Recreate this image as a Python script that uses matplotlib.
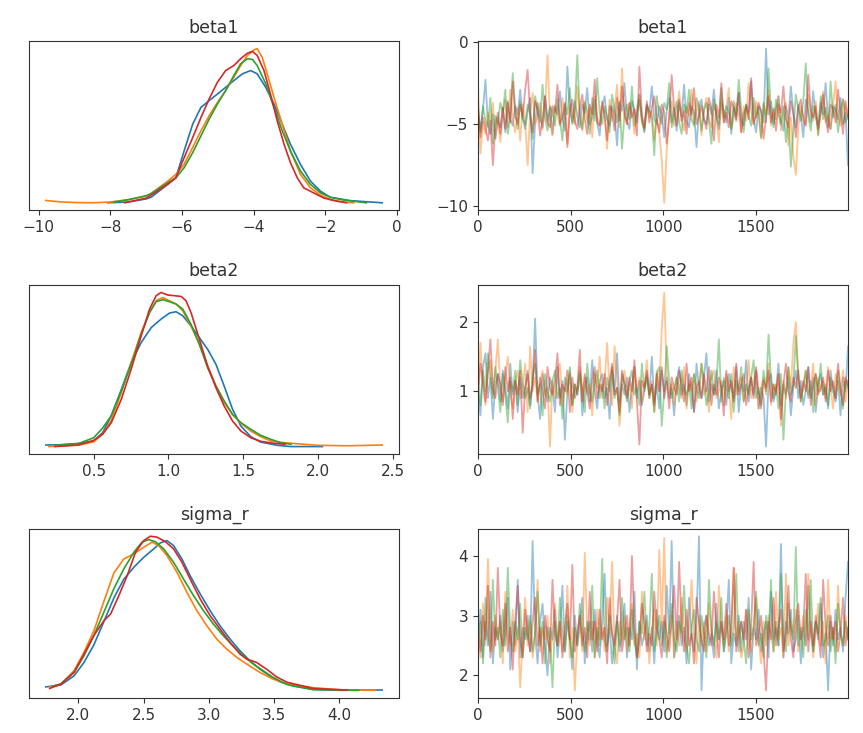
import numpy as np
import matplotlib
matplotlib.use("Agg")
import matplotlib.pyplot as plt

var_names = ['beta1', 'beta2', 'sigma_r']
chain_colors = ['C0', 'C1', 'C2', 'C3']
n_draws = 2000
trace_xticks = [0, 500, 1000, 1500]
trace_yticks = [[-10, -5, 0], [1, 2], [2, 3, 4]]

# density curves (relative height, one list per chain)
beta1_kde_x = [
    [-8.07, -7.5, -7.0, -6.86, -6.4, -6.17, -5.94, -5.7, -5.47, -5.24, -5.01, -4.78, -4.55, -4.31, -4.08, -3.9, -3.66, -3.43, -3.2, -2.97, -2.69, -2.41, -2.13, -1.86, -1.3, -0.41],
    [-9.8, -9.4, -9.0, -8.5, -8.0, -7.5, -7.0, -6.86, -6.4, -6.17, -5.94, -5.7, -5.47, -5.24, -5.01, -4.78, -4.55, -4.36, -4.17, -3.98, -3.9, -3.76, -3.62, -3.43, -3.2, -2.97, -2.69, -2.41, -2.13, -1.86, -1.49, -1.2],
    [-7.9, -7.5, -7.0, -6.86, -6.4, -6.17, -5.94, -5.7, -5.47, -5.24, -5.01, -4.78, -4.55, -4.36, -4.17, -4.03, -3.9, -3.66, -3.43, -3.2, -2.97, -2.69, -2.41, -2.13, -1.86, -1.49, -0.85],
    [-7.6, -7.0, -6.86, -6.4, -6.17, -5.94, -5.7, -5.47, -5.24, -5.01, -4.78, -4.55, -4.36, -4.17, -4.03, -3.9, -3.71, -3.53, -3.34, -3.15, -2.97, -2.78, -2.6, -2.32, -2.04, -1.67, -1.4],
]
beta1_kde_y = [
    [0.0, 0.005, 0.025, 0.036, 0.119, 0.162, 0.336, 0.51, 0.619, 0.663, 0.706, 0.749, 0.793, 0.837, 0.858, 0.837, 0.749, 0.641, 0.51, 0.38, 0.249, 0.14, 0.075, 0.036, 0.014, 0.0],
    [0.015, 0.006, 0.002, 0.0, 0.005, 0.02, 0.045, 0.06, 0.14, 0.184, 0.249, 0.358, 0.467, 0.565, 0.651, 0.728, 0.815, 0.891, 0.956, 0.993, 1.0, 0.945, 0.837, 0.684, 0.51, 0.336, 0.184, 0.097, 0.049, 0.021, 0.005, 0.0],
    [0.005, 0.02, 0.045, 0.06, 0.13, 0.162, 0.227, 0.325, 0.434, 0.543, 0.641, 0.728, 0.826, 0.902, 0.935, 0.93, 0.891, 0.772, 0.619, 0.467, 0.336, 0.206, 0.119, 0.064, 0.036, 0.018, 0.0],
    [0.0, 0.03, 0.05, 0.12, 0.162, 0.292, 0.423, 0.553, 0.674, 0.782, 0.858, 0.891, 0.935, 0.971, 0.982, 0.956, 0.858, 0.706, 0.532, 0.38, 0.26, 0.162, 0.097, 0.064, 0.031, 0.01, 0.0],
]
beta2_kde_x = [
    [0.18, 0.3, 0.4, 0.5, 0.56, 0.618, 0.685, 0.751, 0.818, 0.885, 0.951, 1.007, 1.051, 1.096, 1.151, 1.207, 1.262, 1.318, 1.373, 1.429, 1.485, 1.551, 1.618, 1.729, 1.818, 2.03],
    [0.2, 0.4, 0.5, 0.56, 0.618, 0.685, 0.751, 0.818, 0.874, 0.918, 0.962, 1.007, 1.051, 1.096, 1.151, 1.207, 1.262, 1.318, 1.373, 1.429, 1.485, 1.551, 1.618, 1.685, 1.773, 2.0, 2.2, 2.43],
    [0.25, 0.4, 0.5, 0.56, 0.618, 0.685, 0.751, 0.818, 0.874, 0.918, 0.962, 1.007, 1.051, 1.096, 1.151, 1.207, 1.262, 1.318, 1.373, 1.429, 1.485, 1.551, 1.618, 1.685, 1.751, 1.82],
    [0.24, 0.4, 0.5, 0.56, 0.618, 0.685, 0.751, 0.818, 0.874, 0.918, 0.951, 0.996, 1.04, 1.085, 1.118, 1.151, 1.207, 1.262, 1.318, 1.373, 1.429, 1.485, 1.551, 1.618, 1.707, 1.78],
]
beta2_kde_y = [
    [0.01, 0.012, 0.02, 0.036, 0.09, 0.2, 0.37, 0.545, 0.675, 0.772, 0.827, 0.866, 0.875, 0.849, 0.783, 0.707, 0.632, 0.534, 0.393, 0.242, 0.133, 0.064, 0.029, 0.008, 0.0, 0.0],
    [0.0, 0.01, 0.03, 0.08, 0.17, 0.35, 0.545, 0.74, 0.87, 0.946, 0.967, 0.946, 0.925, 0.881, 0.783, 0.664, 0.523, 0.393, 0.285, 0.209, 0.151, 0.101, 0.064, 0.036, 0.025, 0.008, 0.005, 0.01],
    [0.01, 0.02, 0.057, 0.12, 0.2, 0.361, 0.534, 0.73, 0.87, 0.94, 0.953, 0.94, 0.925, 0.892, 0.794, 0.664, 0.512, 0.393, 0.296, 0.209, 0.155, 0.112, 0.073, 0.047, 0.025, 0.015],
    [0.0, 0.01, 0.04, 0.08, 0.155, 0.307, 0.502, 0.718, 0.892, 0.979, 1.0, 0.983, 0.979, 0.974, 0.946, 0.87, 0.697, 0.523, 0.382, 0.263, 0.166, 0.101, 0.057, 0.034, 0.021, 0.015],
]
sigma_r_kde_x = [
    [1.75, 1.865, 1.967, 2.043, 2.119, 2.196, 2.272, 2.348, 2.425, 2.501, 2.578, 2.628, 2.679, 2.73, 2.794, 2.857, 2.934, 3.01, 3.086, 3.163, 3.239, 3.315, 3.392, 3.468, 3.544, 3.65, 3.8, 4.0, 4.33],
    [1.78, 1.865, 1.967, 2.043, 2.119, 2.196, 2.272, 2.348, 2.425, 2.501, 2.565, 2.616, 2.679, 2.756, 2.832, 2.908, 2.985, 3.061, 3.137, 3.214, 3.29, 3.392, 3.493, 3.6, 3.8, 4.0, 4.28],
    [1.8, 1.865, 1.967, 2.043, 2.119, 2.196, 2.272, 2.348, 2.425, 2.488, 2.539, 2.59, 2.654, 2.73, 2.806, 2.883, 2.959, 3.035, 3.112, 3.188, 3.264, 3.341, 3.417, 3.493, 3.6, 3.8, 4.15],
    [1.78, 1.865, 1.967, 2.043, 2.119, 2.196, 2.247, 2.31, 2.374, 2.438, 2.501, 2.552, 2.603, 2.667, 2.73, 2.794, 2.857, 2.934, 3.01, 3.086, 3.163, 3.239, 3.29, 3.366, 3.443, 3.519, 3.6, 3.8, 4.06],
]
sigma_r_kde_y = [
    [0.03, 0.042, 0.101, 0.187, 0.3, 0.45, 0.6, 0.72, 0.797, 0.861, 0.915, 0.953, 0.968, 0.936, 0.85, 0.743, 0.626, 0.519, 0.422, 0.337, 0.262, 0.198, 0.144, 0.101, 0.063, 0.035, 0.015, 0.008, 0.01],
    [0.03, 0.048, 0.134, 0.252, 0.39, 0.58, 0.76, 0.85, 0.883, 0.925, 0.958, 0.936, 0.872, 0.765, 0.637, 0.519, 0.422, 0.337, 0.273, 0.22, 0.177, 0.123, 0.08, 0.05, 0.025, 0.012, 0.008],
    [0.035, 0.048, 0.123, 0.23, 0.36, 0.51, 0.66, 0.786, 0.893, 0.958, 0.974, 0.961, 0.915, 0.829, 0.722, 0.615, 0.519, 0.433, 0.358, 0.29, 0.23, 0.177, 0.134, 0.091, 0.045, 0.012, 0.008],
    [0.02, 0.048, 0.123, 0.241, 0.36, 0.455, 0.497, 0.615, 0.743, 0.893, 0.968, 0.996, 0.99, 0.961, 0.915, 0.829, 0.722, 0.594, 0.487, 0.401, 0.316, 0.241, 0.209, 0.187, 0.144, 0.095, 0.06, 0.02, 0.01],
]

# trace values, estimated from the right column (150 per chain over 2000 draws)
beta1_trace = [
    [-4.6, -5.3, -4.1, -2.3, -5.0, -5.6, -4.4, -5.9, -4.8, -5.2,
     -4.0, -5.5, -3.6, -4.7, -5.1, -3.9, -4.4, -2.9, -4.6, -5.3,
     -4.2, -3.4, -8.0, -4.9, -3.7, -4.5, -5.2, -3.3, -4.8, -4.0,
     -5.6, -3.9, -4.4, -3.0, -4.7, -5.4, -1.5, -4.1, -4.9, -3.6,
     -4.5, -5.2, -3.8, -4.3, -2.8, -5.0, -4.6, -3.5, -4.9, -5.7,
     -4.0, -3.3, -4.7, -5.1, -3.9, -4.4, -6.3, -3.7, -4.2, -2.5,
     -4.8, -5.3, -3.6, -4.1, -4.9, -3.2, -4.6, -5.5, -3.8, -4.3,
     -2.7, -4.7, -5.0, -3.9, -4.4, -5.8, -4.2, -3.4, -4.9, -4.0,
     -5.4, -3.7, -4.5, -2.6, -4.8, -5.2, -3.9, -4.3, -6.4, -4.1,
     -3.5, -4.7, -5.0, -3.8, -4.4, -2.9, -4.6, -5.3, -3.7, -4.2,
     -4.9, -3.4, -5.6, -4.0, -4.5, -3.1, -4.8, -5.1, -3.8, -4.3,
     -2.4, -4.7, -5.5, -3.9, -4.2, -4.9, -0.4, -4.4, -3.6, -5.0,
     -4.1, -3.3, -4.8, -5.4, -3.9, -4.6, -2.7, -4.3, -5.2, -3.8,
     -4.5, -5.8, -3.5, -4.2, -4.9, -3.0, -4.6, -5.1, -3.7, -4.4,
     -2.5, -4.8, -5.3, -3.9, -4.1, -4.7, -3.4, -5.0, -4.3, -7.5],
    [-2.8, -6.8, -4.9, -5.6, -4.3, -5.1, -3.7, -5.8, -4.6, -6.1,
     -4.4, -3.5, -5.2, -2.9, -4.7, -5.5, -4.0, -6.0, -3.8, -4.9,
     -7.5, -4.2, -3.1, -5.0, -4.6, -3.7, -5.3, -4.1, -0.8, -4.8,
     -5.7, -3.9, -4.4, -5.1, -3.4, -4.7, -6.2, -3.8, -4.3, -5.0,
     -2.7, -4.5, -5.4, -3.6, -4.9, -4.0, -5.8, -3.3, -4.6, -5.1,
     -3.9, -4.4, -6.5, -3.5, -4.8, -4.1, -2.6, -5.2, -1.6, -4.5,
     -5.0, -3.7, -4.3, -5.6, -4.0, -3.2, -4.9, -5.3, -3.8, -4.6,
     -4.2, -6.0, -4.7, -5.5, -7.2, -9.8, -6.6, -4.4, -3.6, -5.1,
     -4.3, -3.0, -4.8, -5.4, -3.9, -4.5, -2.9, -5.0, -4.2, -3.6,
     -5.7, -4.1, -3.4, -4.7, -5.2, -3.8, -4.4, -6.1, -3.5, -4.9,
     -4.0, -2.8, -5.3, -4.6, -3.7, -4.3, -5.5, -3.9, -4.8, -2.5,
     -4.2, -5.0, -3.6, -4.5, -5.9, -3.8, -4.4, -2.9, -5.1, -4.0,
     -4.7, -3.3, -5.4, -4.1, -3.7, -6.3, -4.6, -7.0, -8.1, -5.2,
     -3.9, -4.5, -5.0, -3.2, -4.3, -4.8, -3.6, -5.6, -4.2, -3.0,
     -4.9, -4.4, -5.3, -3.8, -2.4, -4.6, -5.1, -3.5, -4.0, -4.7],
    [-4.1, -5.5, -3.9, -4.8, -5.2, -3.4, -6.2, -4.5, -5.0, -3.7,
     -4.3, -2.9, -5.6, -4.6, -1.9, -4.0, -5.3, -3.6, -4.7, -5.0,
     -3.8, -4.4, -5.9, -3.3, -4.2, -4.9, -2.6, -4.6, -5.4, -3.9,
     -4.3, -5.1, -3.5, -4.7, -6.0, -3.8, -4.4, -2.8, -5.0, -4.1,
     -0.8, -4.5, -5.3, -3.7, -4.2, -5.6, -3.4, -4.8, -2.2, -4.3,
     -5.0, -3.9, -4.6, -5.5, -3.2, -4.1, -4.9, -3.6, -6.5, -4.4,
     -3.8, -4.7, -2.7, -5.1, -4.3, -3.5, -4.8, -5.4, -3.9, -4.2,
     -4.6, -6.9, -3.3, -4.5, -5.0, -3.7, -4.1, -2.5, -5.2, -4.4,
     -3.6, -4.9, -5.6, -3.8, -4.3, -2.9, -4.7, -5.1, -3.4, -4.0,
     -5.4, -4.2, -3.7, -4.8, -6.2, -3.5, -4.4, -5.0, -2.8, -4.6,
     -3.9, -4.3, -5.3, -3.6, -4.7, -2.3, -4.1, -5.5, -3.8, -4.5,
     -5.1, -3.4, -4.6, -4.0, -5.8, -3.7, -4.9, -1.6, -4.2, -5.2,
     -3.5, -4.4, -5.0, -3.9, -6.1, -4.6, -7.6, -5.3, -3.2, -4.1,
     -4.8, -3.6, -1.3, -4.5, -5.4, -3.9, -4.3, -5.7, -3.3, -4.7,
     -4.0, -5.2, -2.4, -4.6, -3.8, -5.5, -4.2, -3.5, -4.9, -4.4],
    [-3.9, -5.8, -4.6, -5.2, -6.0, -4.8, -7.5, -5.1, -4.3, -5.6,
     -4.0, -5.3, -3.7, -4.9, -2.4, -4.5, -5.0, -3.8, -4.6, -2.9,
     -1.7, -4.4, -5.5, -3.6, -4.1, -5.7, -4.7, -3.3, -4.9, -5.2,
     -3.9, -4.3, -2.6, -5.0, -4.6, -3.7, -6.4, -4.2, -3.5, -4.8,
     -5.3, -4.0, -3.2, -4.7, -5.6, -3.8, -4.4, -2.3, -4.9, -5.1,
     -3.6, -4.5, -6.0, -3.9, -4.2, -5.4, -3.4, -4.8, -2.7, -4.3,
     -5.0, -3.7, -4.6, -4.1, -5.7, -1.5, -4.4, -5.2, -3.6, -4.9,
     -4.0, -3.3, -4.7, -5.5, -3.8, -4.3, -6.2, -4.6, -2.0, -4.1,
     -5.1, -3.5, -4.8, -4.2, -5.6, -3.7, -4.4, -2.8, -5.0, -4.5,
     -3.9, -4.7, -5.3, -3.4, -4.1, -6.0, -3.8, -4.6, -2.5, -4.9,
     -4.3, -5.2, -3.6, -4.0, -4.8, -3.1, -5.5, -4.4, -3.9, -4.7,
     -2.2, -5.0, -4.5, -3.7, -4.2, -5.9, -4.6, -3.3, -4.9, -4.1,
     -5.4, -3.8, -4.3, -2.7, -4.7, -5.2, -3.6, -4.4, -5.8, -4.0,
     -3.5, -4.8, -5.1, -2.0, -4.2, -4.6, -3.9, -5.3, -4.4, -3.2,
     -4.7, -5.5, -3.8, -4.1, -4.9, -2.9, -4.3, -5.6, -3.6, -4.5],
]
beta2_trace = [
    [1.0, 0.65, 1.35, 1.55, 0.9, 1.2, 0.6, 1.1, 1.25, 0.85,
     1.3, 1.05, 0.75, 1.4, 0.95, 1.15, 0.7, 1.2, 0.9, 1.05,
     1.3, 0.8, 1.1, 2.05, 0.95, 0.6, 1.25, 1.0, 0.85, 1.2,
     1.05, 0.7, 1.35, 0.9, 1.15, 0.3, 1.0, 1.25, 0.8, 1.1,
     0.95, 1.3, 0.65, 1.05, 1.2, 0.85, 1.45, 1.0, 0.75, 1.15,
     1.25, 0.9, 1.05, 0.6, 1.3, 1.0, 1.55, 0.85, 1.1, 0.95,
     1.2, 0.7, 1.05, 1.35, 0.9, 1.15, 0.8, 1.0, 1.25, 0.95,
     1.5, 0.85, 1.1, 0.75, 1.3, 1.0, 1.2, 0.9, 1.05, 0.65,
     1.15, 1.35, 0.95, 1.1, 0.8, 1.25, 1.0, 0.7, 1.4, 1.05,
     0.9, 1.2, 1.55, 0.85, 1.1, 0.95, 1.3, 0.75, 1.0, 1.15,
     0.8, 1.25, 1.05, 0.9, 1.35, 0.7, 1.1, 1.0, 1.45, 0.85,
     1.2, 0.95, 1.3, 0.75, 1.05, 0.9, 0.2, 1.15, 1.25, 0.85,
     1.0, 1.4, 0.8, 1.1, 0.95, 1.2, 0.65, 1.05, 1.3, 0.9,
     1.15, 0.8, 1.0, 1.35, 0.9, 1.2, 0.7, 1.1, 1.25, 0.95,
     1.05, 0.75, 1.3, 1.0, 0.85, 1.15, 0.65, 1.2, 1.0, 1.65],
    [0.9, 1.7, 1.1, 0.8, 1.25, 1.45, 0.95, 1.3, 1.75, 1.05,
     0.85, 1.2, 1.5, 1.0, 0.75, 1.15, 1.3, 0.9, 1.05, 1.4,
     0.7, 1.65, 1.0, 1.2, 0.85, 1.1, 1.3, 0.95, 1.05, 0.2,
     1.15, 0.9, 1.25, 1.4, 0.8, 1.05, 0.95, 1.3, 0.7, 1.1,
     1.0, 1.35, 0.85, 1.2, 0.95, 1.1, 0.65, 1.25, 1.05, 1.5,
     0.9, 1.15, 1.7, 1.0, 0.8, 1.65, 1.2, 0.5, 1.05, 1.3,
     0.95, 1.1, 0.75, 1.35, 1.0, 1.2, 0.85, 1.05, 1.45, 0.9,
     1.15, 0.7, 1.3, 1.0, 1.9, 2.43, 1.25, 0.95, 1.1, 0.8,
     1.2, 1.05, 0.9, 1.35, 0.75, 1.15, 1.0, 1.25, 0.85, 1.1,
     1.4, 0.95, 1.05, 0.7, 1.2, 1.3, 0.9, 1.0, 1.15, 0.8,
     1.25, 1.05, 0.6, 1.35, 0.95, 1.1, 1.2, 0.85, 1.0, 1.45,
     0.9, 1.15, 1.3, 0.75, 1.05, 1.2, 0.95, 1.4, 0.8, 1.1,
     1.0, 1.25, 0.5, 1.15, 0.9, 1.35, 1.05, 1.7, 2.0, 1.2,
     0.85, 1.1, 1.3, 0.95, 1.05, 1.4, 0.8, 1.2, 1.0, 1.15,
     0.9, 1.35, 1.05, 0.75, 1.25, 1.1, 0.95, 1.3, 0.85, 1.15],
    [1.1, 0.8, 1.3, 1.0, 1.55, 1.2, 0.9, 1.35, 1.05, 0.7,
     1.25, 0.95, 0.55, 1.15, 1.0, 1.3, 0.8, 1.45, 1.1, 0.9,
     1.05, 0.75, 1.2, 1.4, 0.95, 1.1, 0.65, 1.25, 1.0, 0.85,
     1.15, 1.3, 0.9, 1.05, 0.6, 1.2, 1.0, 1.35, 0.8, 1.1,
     0.95, 1.25, 1.05, 0.7, 1.4, 1.0, 0.85, 1.15, 1.3, 0.9,
     1.1, 0.75, 1.2, 1.0, 1.35, 0.9, 1.05, 0.65, 1.25, 1.1,
     0.85, 1.15, 1.3, 0.95, 1.05, 0.8, 1.4, 1.0, 1.2, 0.9,
     1.1, 0.7, 1.25, 1.35, 0.5, 1.0, 1.65, 1.15, 0.9, 1.05,
     1.2, 0.85, 1.3, 1.0, 0.95, 1.1, 0.75, 1.25, 1.05, 0.9,
     1.4, 1.15, 0.8, 1.0, 1.3, 0.95, 1.1, 1.75, 0.85, 1.2,
     1.05, 0.9, 1.25, 0.7, 1.15, 1.0, 1.35, 0.85, 1.1, 0.95,
     1.2, 1.45, 0.9, 1.05, 0.8, 1.3, 1.0, 1.82, 1.15, 0.9,
     1.1, 0.75, 1.25, 0.3, 1.0, 1.35, 0.95, 1.1, 1.8, 1.2,
     0.85, 1.05, 1.3, 0.9, 1.15, 0.7, 1.25, 1.0, 1.4, 0.95,
     1.1, 0.8, 1.2, 1.05, 0.9, 1.3, 1.0, 0.75, 1.15, 1.05],
    [0.95, 1.4, 1.15, 0.85, 1.3, 1.75, 1.05, 0.9, 1.25, 1.1,
     0.8, 1.35, 1.0, 1.2, 0.6, 1.15, 0.95, 1.3, 0.4, 1.05,
     1.25, 0.9, 1.1, 1.6, 0.85, 1.2, 1.0, 0.75, 1.35, 1.05,
     0.95, 1.15, 1.55, 0.8, 1.1, 1.0, 1.3, 0.7, 1.2, 0.9,
     1.05, 1.6, 0.85, 1.25, 1.0, 0.75, 1.15, 1.35, 0.9, 1.1,
     1.0, 1.25, 0.8, 1.15, 1.4, 0.95, 1.05, 0.7, 1.3, 1.1,
     0.9, 1.2, 1.0, 1.45, 0.85, 0.23, 1.15, 1.05, 1.3, 0.95,
     1.1, 0.8, 1.25, 1.0, 1.35, 0.9, 1.15, 0.75, 1.2, 1.05,
     0.95, 1.3, 1.1, 0.85, 1.4, 1.0, 1.2, 0.7, 1.05, 1.15,
     0.9, 1.25, 1.0, 1.35, 0.8, 1.1, 0.95, 1.2, 1.05, 0.65,
     1.3, 1.0, 1.15, 0.85, 1.4, 0.95, 1.1, 1.25, 0.8, 1.05,
     1.2, 0.9, 1.35, 1.0, 0.75, 1.15, 1.05, 1.3, 0.85, 1.1,
     0.95, 1.25, 0.6, 1.1, 1.4, 1.0, 0.85, 1.2, 1.05, 1.3,
     0.9, 1.15, 1.0, 1.35, 0.8, 1.1, 1.25, 0.95, 1.05, 1.2,
     0.85, 1.3, 1.0, 1.15, 0.9, 1.4, 1.05, 0.8, 1.2, 1.1],
]
sigma_r_trace = [
    [2.6, 3.1, 2.3, 2.9, 2.5, 3.4, 2.2, 2.8, 2.6, 3.0,
     2.4, 2.7, 3.3, 2.1, 2.9, 2.5, 3.6, 2.3, 2.8, 2.6,
     3.0, 2.4, 4.25, 2.7, 2.2, 2.9, 3.2, 2.5, 2.0, 2.8,
     2.6, 3.1, 2.3, 2.7, 3.5, 2.4, 2.9, 2.6, 2.1, 3.0,
     2.5, 2.8, 3.3, 2.2, 2.7, 2.9, 2.4, 3.1, 2.6, 2.3,
     2.9, 3.7, 2.5, 2.8, 2.2, 2.6, 3.0, 2.4, 2.7, 3.2,
     2.3, 2.8, 2.6, 3.4, 2.1, 2.9, 2.5, 2.7, 3.0, 2.4,
     2.8, 2.2, 3.1, 2.6, 2.9, 2.4, 3.5, 2.7, 4.25, 2.3,
     2.6, 3.0, 2.5, 2.8, 2.2, 3.3, 2.7, 2.4, 2.9, 4.33,
     1.75, 2.8, 3.0, 2.5, 2.7, 2.3, 3.2, 2.6, 2.9, 2.4,
     2.8, 3.6, 2.2, 2.7, 2.5, 3.0, 2.4, 2.9, 2.6, 3.3,
     2.1, 2.8, 2.6, 3.1, 2.4, 2.7, 2.9, 2.3, 3.4, 2.6,
     2.8, 2.5, 4.2, 2.3, 2.9, 2.7, 3.1, 2.4, 2.6, 3.0,
     2.2, 2.8, 2.5, 3.5, 2.7, 2.4, 2.9, 2.6, 3.2, 2.3,
     2.7, 1.75, 2.9, 2.5, 3.1, 2.6, 2.8, 2.4, 3.3, 3.9],
    [2.7, 2.3, 3.2, 2.5, 3.95, 2.8, 2.4, 3.0, 2.6, 2.9,
     2.2, 3.4, 2.7, 2.5, 3.1, 2.4, 2.8, 1.8, 2.6, 3.3,
     2.5, 2.9, 2.3, 2.7, 3.6, 2.4, 2.8, 2.6, 3.0, 2.2,
     2.7, 3.2, 2.5, 2.9, 2.4, 2.6, 3.5, 2.3, 2.8, 1.75,
     2.6, 3.0, 2.4, 4.05, 2.7, 2.5, 2.9, 2.3, 3.1, 2.6,
     2.8, 2.4, 3.3, 2.7, 3.9, 2.5, 2.2, 2.9, 2.6, 3.0,
     2.4, 2.8, 3.2, 2.5, 2.7, 2.3, 3.4, 2.6, 2.9, 2.2,
     2.7, 3.1, 2.5, 4.1, 2.8, 4.3, 2.4, 2.6, 3.0, 2.3,
     2.9, 2.5, 3.3, 2.7, 2.4, 2.8, 3.6, 2.6, 2.2, 3.0,
     2.5, 2.9, 2.4, 3.2, 2.7, 2.6, 2.3, 3.5, 2.8, 2.5,
     3.0, 2.4, 2.7, 3.8, 2.6, 2.9, 2.3, 2.5, 3.1, 2.7,
     2.4, 2.8, 3.3, 2.6, 2.2, 2.9, 2.5, 3.0, 2.7, 2.4,
     3.4, 2.6, 2.8, 2.3, 3.7, 2.5, 2.9, 2.7, 3.1, 2.4,
     2.6, 3.0, 2.5, 3.7, 2.8, 2.3, 2.7, 3.2, 2.5, 2.9,
     2.2, 3.6, 2.6, 2.8, 2.4, 3.5, 2.7, 2.5, 3.0, 2.6],
    [2.5, 2.9, 2.2, 3.3, 2.7, 2.4, 3.6, 2.6, 2.8, 2.3,
     3.1, 2.5, 3.8, 2.7, 2.4, 2.9, 2.6, 3.2, 2.3, 2.8,
     2.6, 3.0, 2.4, 2.7, 3.4, 2.5, 2.9, 2.2, 2.8, 2.6,
     1.8, 2.9, 2.5, 3.3, 2.7, 2.4, 3.0, 2.6, 2.3, 2.8,
     2.5, 3.2, 2.7, 2.4, 2.9, 2.6, 3.5, 2.3, 2.8, 2.5,
     3.95, 2.6, 2.4, 3.0, 2.7, 2.2, 2.9, 2.5, 3.3, 2.6,
     2.8, 2.4, 3.1, 2.6, 2.3, 2.9, 2.7, 3.4, 2.5, 2.8,
     3.7, 2.4, 2.7, 3.0, 2.5, 2.9, 2.3, 2.8, 3.2, 2.6,
     2.4, 2.9, 2.7, 3.5, 2.5, 2.2, 2.8, 3.1, 2.6, 2.4,
     3.0, 2.7, 2.3, 3.6, 2.8, 2.5, 2.9, 2.6, 3.3, 2.4,
     2.7, 3.0, 2.5, 2.8, 3.7, 2.4, 2.9, 2.6, 2.2, 3.1,
     2.6, 2.8, 3.4, 2.5, 2.7, 2.3, 3.0, 2.6, 3.6, 2.4,
     2.9, 2.5, 3.7, 2.7, 2.4, 3.2, 2.8, 2.6, 4.15, 2.5,
     2.8, 2.3, 3.1, 2.6, 3.6, 2.4, 2.9, 2.7, 3.3, 2.5,
     2.6, 3.0, 2.4, 2.8, 2.2, 3.2, 2.7, 2.5, 2.9, 2.6],
    [2.8, 2.4, 3.0, 2.6, 3.5, 2.3, 2.9, 2.5, 3.8, 2.7,
     2.5, 3.2, 2.4, 2.8, 2.1, 2.9, 3.5, 2.6, 2.3, 3.1,
     2.7, 2.4, 2.9, 3.3, 2.5, 2.8, 2.2, 3.0, 2.6, 2.4,
     3.6, 2.7, 2.5, 2.9, 2.3, 2.8, 3.2, 2.6, 3.85, 2.4,
     2.7, 3.0, 2.5, 2.8, 2.3, 3.4, 2.6, 2.9, 2.4, 3.1,
     2.6, 2.8, 2.2, 3.3, 2.7, 2.5, 2.9, 3.6, 2.4, 2.7,
     3.0, 2.5, 4.0, 2.8, 2.3, 2.6, 3.2, 2.9, 2.4, 2.7,
     2.5, 3.4, 2.8, 2.6, 2.3, 3.0, 2.7, 2.4, 2.9, 3.5,
     2.6, 3.9, 2.8, 2.4, 3.1, 2.5, 2.7, 2.2, 3.3, 2.9,
     2.6, 2.4, 3.0, 2.7, 2.5, 3.4, 2.8, 2.3, 2.9, 2.6,
     3.2, 2.5, 2.8, 3.8, 2.4, 2.7, 2.9, 2.6, 3.1, 2.3,
     2.8, 3.9, 2.5, 2.7, 3.0, 2.4, 1.75, 2.9, 2.6, 3.3,
     2.5, 2.8, 3.1, 2.4, 2.7, 3.5, 2.6, 2.3, 2.9, 3.2,
     2.6, 2.8, 3.7, 2.4, 2.9, 2.5, 3.0, 2.7, 2.3, 3.6,
     2.8, 2.5, 3.0, 2.6, 2.9, 2.4, 2.7, 3.3, 2.5, 2.8],
]

kde_x = [beta1_kde_x, beta2_kde_x, sigma_r_kde_x]
kde_y = [beta1_kde_y, beta2_kde_y, sigma_r_kde_y]
traces = [beta1_trace, beta2_trace, sigma_r_trace]

ink = '#333333'
plt.rcParams['text.color'] = ink
plt.rcParams['axes.edgecolor'] = ink
plt.rcParams['xtick.color'] = ink
plt.rcParams['ytick.color'] = ink

fig, axes = plt.subplots(3, 2, figsize=(8.63, 7.33), dpi=100)
fig.subplots_adjust(left=0.0336, right=0.9826, top=0.9441, bottom=0.0477,
                    wspace=0.2135, hspace=0.438)

for row, name in enumerate(var_names):
    ax_kde = axes[row, 0]
    ax_tr = axes[row, 1]
    for c, color in enumerate(chain_colors):
        ax_kde.plot(kde_x[row][c], kde_y[row][c], color=color, lw=1.2)
        vals = traces[row][c]
        draws = np.linspace(0, n_draws - 1, len(vals))
        ax_tr.plot(draws, vals, color=color, lw=1.3, alpha=0.45)
    ax_kde.set_yticks([])
    ax_kde.set_title(name, fontsize=12.5)
    ax_tr.set_title(name, fontsize=12.5)
    ax_tr.set_xlim(0, n_draws - 1)
    ax_tr.set_xticks(trace_xticks)
    ax_tr.set_yticks(trace_yticks[row])
    for ax in (ax_kde, ax_tr):
        ax.tick_params(labelsize=11)

fig.savefig('out.png', dpi=100)
